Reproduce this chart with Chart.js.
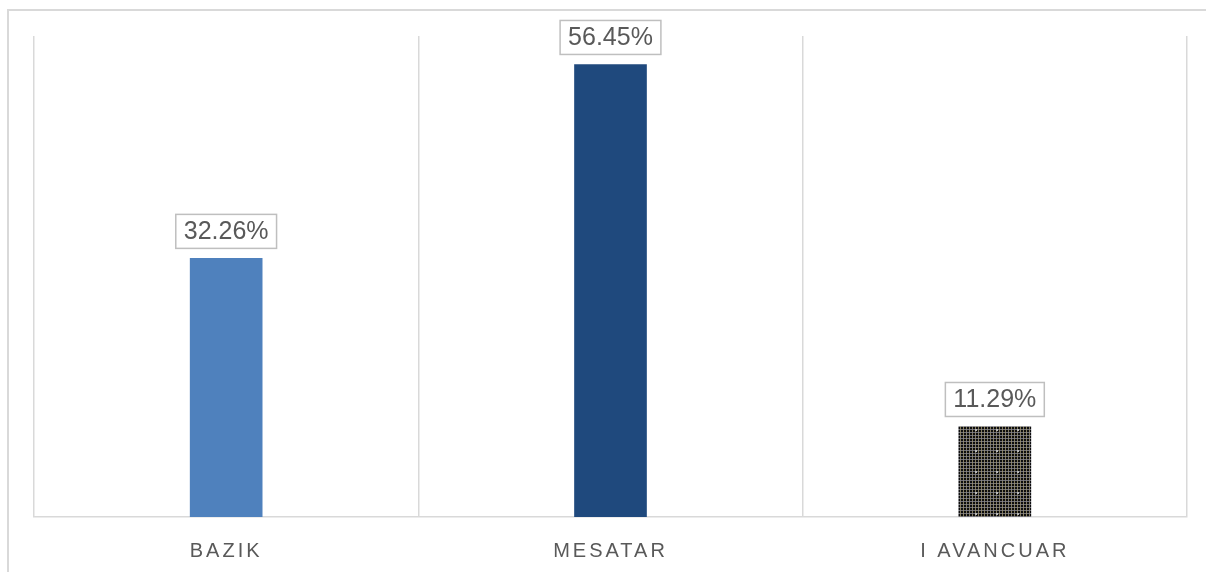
<!DOCTYPE html>
<html>
<head>
<meta charset="utf-8">
<script src="https://cdn.jsdelivr.net/npm/chart.js@4.4.1/dist/chart.umd.min.js"></script>
<style>
  html, body { margin: 0; padding: 0; background: #ffffff; }
  #wrap { width: 1206px; height: 572px; position: relative; }
</style>
</head>
<body>
<div id="wrap"><canvas id="myBarChart" width="1206" height="572"></canvas></div>
<script>
// Categories and values
const categories = ['BAZIK', 'MESATAR', 'I AVANCUAR'];
const percentages = [32.26, 56.45, 11.29];
const barColors = ['#4f81bd', '#1f497d', null]; // last one gets a pattern

// Dark checked pattern for the third bar
function makePattern(ctx) {
  const p = document.createElement('canvas');
  p.width = 21;
  p.height = 21;
  const pc = p.getContext('2d');
  pc.fillStyle = '#0d0d0d';
  pc.fillRect(0, 0, 21, 21);
  for (let i = 0; i < 21; i += 3) {
    pc.fillStyle = 'rgba(160, 150, 115, 0.8)';
    pc.fillRect(i, 0, 1, 21);
    pc.fillStyle = 'rgba(135, 135, 145, 0.8)';
    pc.fillRect(0, i, 21, 1);
  }
  pc.fillStyle = '#b8b8b8';
  pc.fillRect(9, 9, 2, 2);
  return ctx.createPattern(p, 'repeat');
}

const ctx = document.getElementById('myBarChart').getContext('2d');
const colors = barColors.map(c => c || makePattern(ctx));

// Outer frame + letter spacing for axis labels
const framePlugin = {
  id: 'frame',
  beforeDraw(chart) {
    const c = chart.ctx;
    c.save();
    c.strokeStyle = '#d9d9d9';
    c.lineWidth = 2;
    c.strokeRect(8, 10, 1300, 700);
    c.restore();
    c.letterSpacing = '3px';
  },
  beforeDatasetsDraw(chart) {
    chart.ctx.letterSpacing = '0px';
  }
};

// Boxed value labels above each bar
const valueBoxes = {
  id: 'valueBoxes',
  afterDatasetsDraw(chart) {
    const c = chart.ctx;
    const meta = chart.getDatasetMeta(0);
    c.save();
    c.font = '25px "Liberation Sans Narrow", "Arial Narrow", sans-serif';
    c.textAlign = 'center';
    c.textBaseline = 'middle';
    meta.data.forEach((bar, i) => {
      const txt = percentages[i].toFixed(2) + '%';
      const w = c.measureText(txt).width + 16;
      const h = 34;
      const bottom = bar.y - 10;
      c.fillStyle = '#ffffff';
      c.fillRect(bar.x - w / 2, bottom - h, w, h);
      c.strokeStyle = '#bfbfbf';
      c.lineWidth = 1.5;
      c.strokeRect(bar.x - w / 2, bottom - h, w, h);
      c.fillStyle = '#595959';
      c.fillText(txt, bar.x, bottom - h / 2 + 1);
    });
    c.restore();
  }
};

new Chart(ctx, {
  type: 'bar',
  data: {
    labels: categories,
    datasets: [{
      data: percentages,
      backgroundColor: colors,
      borderWidth: 0,
      barThickness: 72
    }]
  },
  options: {
    responsive: false,
    animation: false,
    layout: { padding: { left: 34, right: 19, top: 36, bottom: 0 } },
    plugins: {
      legend: { display: false },
      tooltip: { enabled: false }
    },
    scales: {
      x: {
        afterFit(scale) { scale.height = 55; },
        grid: {
          offset: true,
          color: '#d9d9d9',
          lineWidth: 1.5,
          drawTicks: false
        },
        border: { color: '#d9d9d9', width: 1.5 },
        ticks: {
          color: '#595959',
          padding: 22,
          font: { family: '"Liberation Sans Narrow", "Arial Narrow", sans-serif', size: 20 }
        }
      },
      y: {
        display: false,
        min: 0,
        max: 60
      }
    }
  },
  plugins: [framePlugin, valueBoxes]
});
</script>
</body>
</html>
